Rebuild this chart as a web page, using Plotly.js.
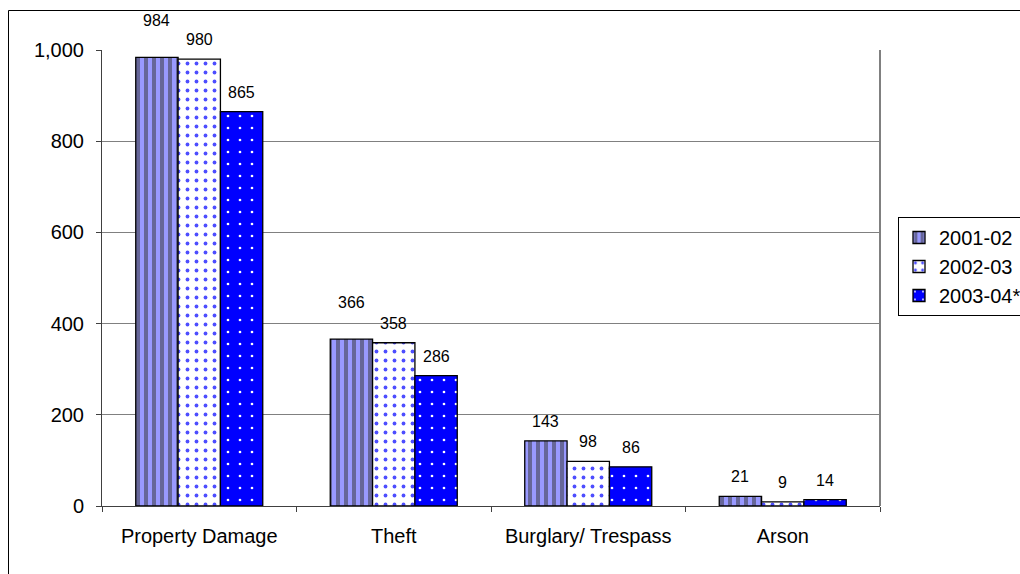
<!DOCTYPE html>
<html>
<head>
<meta charset="utf-8">
<script src="https://cdn.plot.ly/plotly-3.0.1.min.js"></script>
<style>html,body{margin:0;padding:0;background:#fff;}#chart{width:1020px;height:574px;}</style>
</head>
<body>
<div id="chart"></div>
<script>
// ---- data ----
var categories = ["Property Damage", "Theft", "Burglary/ Trespass", "Arson"];
var seriesNames = ["2001-02", "2002-03", "2003-04*"];
var values2001 = [984, 366, 143, 21];
var values2002 = [980, 358, 98, 9];
var values2003 = [865, 286, 86, 14];
var yTickVals = [0, 200, 400, 600, 800, 1000];
var yTickText = ["0", "200", "400", "600", "800", "1,000"];

// ---- layout geometry (pixels) ----
var W = 1020, H = 574;
var L = 102, R = 880, T = 50, B = 506;
var plotW = R - L, plotH = B - T;
var bargap = 0.347;
var barW = plotW / categories.length * (1 - bargap) / 3;

var styles = [
  {bg: "#9999FF", fg: "#666699", shape: "|", size: 8, solidity: 0.5},
  {bg: "#FFFFFF", fg: "#4d4dff", shape: ".", size: 9, solidity: 0.14},
  {bg: "#0000FF", fg: "#FFFFFF", shape: ".", size: 12, solidity: 0.04}
];
var allValues = [values2001, values2002, values2003];

var traces = allValues.map(function (vals, s) {
  return {
    type: "bar",
    name: seriesNames[s],
    x: categories,
    y: vals,
    marker: {
      color: styles[s].bg,
      line: {color: "#000", width: 1.3},
      pattern: {shape: styles[s].shape, fgcolor: styles[s].fg, bgcolor: styles[s].bg,
                size: styles[s].size, solidity: styles[s].solidity, fillmode: "replace"}
    },
    hoverinfo: "skip"
  };
});

var annotations = [];
allValues.forEach(function (vals, s) {
  vals.forEach(function (v, i) {
    var lift = 9;
    if (s === 0 && i < 2) lift = 26; // Excel nudged these labels upward
    annotations.push({
      x: categories[i], y: v, xref: "x", yref: "y",
      text: String(v), showarrow: false,
      xshift: (s - 1) * barW, yanchor: "bottom", yshift: lift,
      font: {family: "Liberation Sans, Arial, sans-serif", size: 16, color: "#000"}
    });
  });
});

function px2x(p) { return (p - L) / plotW; }
function py2y(p) { return (B - p) / plotH; }

var shapes = [
  {type: "rect", xref: "paper", yref: "paper", x0: px2x(8.5), x1: px2x(1040), y0: py2y(600), y1: py2y(10.5),
   line: {color: "#000", width: 1}, fillcolor: "rgba(0,0,0,0)", layer: "below"},
  {type: "line", xref: "paper", yref: "paper", x0: 1, x1: 1, y0: 0, y1: 1,
   line: {color: "#808080", width: 2}}
];

var layout = {
  width: W, height: H,
  margin: {l: L, r: W - R, t: T, b: H - B, autoexpand: false},
  paper_bgcolor: "#fff", plot_bgcolor: "#fff",
  font: {family: "Liberation Sans, Arial, sans-serif", size: 20, color: "#000"},
  barmode: "group", bargap: bargap, bargroupgap: 0,
  xaxis: {
    type: "category", showgrid: false, showline: true, linecolor: "#404040", linewidth: 1,
    ticks: "outside", tickson: "boundaries", ticklen: 5, tickcolor: "#404040",
    ticklabelstandoff: 12, tickfont: {size: 20}, fixedrange: true
  },
  yaxis: {
    range: [0, 1000], tickvals: yTickVals, ticktext: yTickText,
    showgrid: true, gridcolor: "#808080", gridwidth: 1,
    showline: true, linecolor: "#404040", linewidth: 1, zeroline: false,
    ticks: "outside", ticklen: 5, tickcolor: "#404040", ticklabelstandoff: 8,
    tickfont: {size: 20}, fixedrange: true
  },
  showlegend: true,
  legend: {
    x: px2x(898), y: py2y(217), xanchor: "left", yanchor: "top",
    bordercolor: "#000", borderwidth: 1, bgcolor: "#fff",
    font: {size: 20}, itemwidth: 30
  },
  annotations: annotations,
  shapes: shapes
};

Plotly.newPlot("chart", traces, layout, {displayModeBar: false, staticPlot: true});
</script>
</body>
</html>
